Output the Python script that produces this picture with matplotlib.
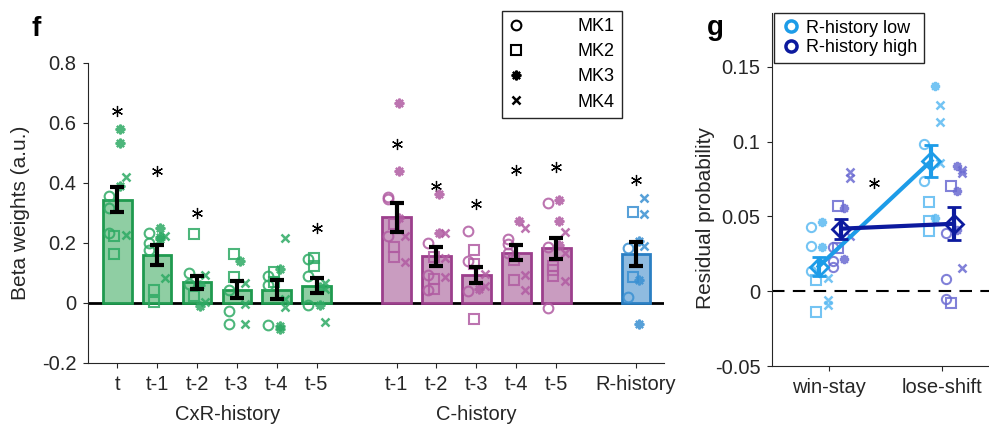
import matplotlib
matplotlib.use("Agg")
import matplotlib.pyplot as plt
from matplotlib.lines import Line2D
from matplotlib.transforms import blended_transform_factory

plt.rcParams['font.family'] = ['Liberation Sans', 'DejaVu Sans']

# ---- panel f data ----
cxr_labels = ['t', 't-1', 't-2', 't-3', 't-4', 't-5']
cxr_means = [0.344, 0.160, 0.069, 0.045, 0.045, 0.058]
cxr_sem = [0.042, 0.033, 0.022, 0.028, 0.033, 0.025]
cxr_star = [0.64, 0.44, 0.30, None, None, 0.25]
cxr_mk1 = [[0.358, 0.316, 0.232], [0.234, 0.200, 0.178], [0.100, 0.064],
           [0.044, -0.028, -0.069], [0.089, 0.061, -0.074], [0.148, 0.089, -0.007]]
cxr_mk2 = [[0.223, 0.162], [0.044, 0.005], [0.230, 0.025],
           [0.165, 0.086], [0.103, 0.069], [0.150, 0.122]]
cxr_mk3 = [[0.581, 0.534, 0.389], [0.251, 0.220, 0.215], [0.060, -0.009],
           [0.139], [0.114, -0.076, -0.087], [0.052, -0.007]]
cxr_mk4 = [[0.420, 0.228], [0.224, 0.084], [0.094, 0.002],
           [0.066, -0.003, -0.069], [0.217, 0.013, -0.013], [0.066, 0.047, -0.062]]

c_labels = ['t-1', 't-2', 't-3', 't-4', 't-5']
c_means = [0.286, 0.156, 0.094, 0.168, 0.182]
c_sem = [0.048, 0.032, 0.026, 0.026, 0.035]
c_star = [0.531, 0.389, 0.329, 0.444, 0.452]
c_mk1 = [[0.355, 0.346, 0.224], [0.200, 0.092, 0.045], [0.241, 0.140, 0.041],
         [0.212, 0.198, 0.167], [0.333, 0.187, -0.015]]
c_mk2 = [[0.262, 0.187, 0.153], [0.153, 0.081, 0.047], [0.176, 0.131, -0.054],
         [0.142, 0.077], [0.125, 0.109, 0.090]]
c_mk3 = [[0.666, 0.441, 0.284], [0.363, 0.232], [0.047],
         [0.273], [0.344, 0.273, 0.193]]
c_mk4 = [[0.224, 0.138], [0.234, 0.150, 0.086], [0.097, 0.058],
         [0.249, 0.092, 0.044], [0.237, 0.168, 0.073]]

r_labels = ['R-history']
r_means = [0.165]
r_sem = [0.040]
r_star = [0.411]
r_mk1 = [[0.185, 0.019]]
r_mk2 = [[0.302, 0.088]]
r_mk3 = [[0.206, 0.077, -0.071]]
r_mk4 = [[0.350, 0.297, 0.190]]

# ---- panel g data ----
g_labels = ['win-stay', 'lose-shift']
low_means = [0.0165, 0.0873]
low_sem = [0.0065, 0.0107]
high_means = [0.0418, 0.0451]
high_sem = [0.0068, 0.0110]
low_mk1 = [[0.0427, 0.0299, 0.0132], [0.0987, 0.0734]]
low_mk2 = [[0.0076, -0.0140], [0.0597, 0.0471, 0.0400]]
low_mk3 = [[0.0460, 0.0295], [0.1375, 0.0489]]
low_mk4 = [[0.0088, -0.0058, -0.0091], [0.1243, 0.1129, 0.0857]]
high_mk1 = [[0.0295, 0.0203, 0.0165], [0.0389, 0.0081, -0.0051]]
high_mk2 = [[0.0572, 0.0289], [0.0705, -0.0076]]
high_mk3 = [[0.0556, 0.0215], [0.0835, 0.0672, 0.0411]]
high_mk4 = [[0.0795, 0.0757, 0.0366], [0.0813, 0.0790, 0.0155]]
g_star = (1.40, 0.0723)

AXC = '#262626'
MK_STYLE = [
    dict(marker='o', mfc='none', ms=7, mew=1.5),
    dict(marker='s', mfc='none', ms=7, mew=1.5),
    dict(marker=(8, 2, 0), ms=7, mew=1.6),
    dict(marker='x', ms=5.5, mew=1.8),
]
SIG = dict(marker=(6, 2, 0), ms=8, mew=0.9, color='k', ls='none')

fig = plt.figure(figsize=(9.89, 4.25), dpi=100)
ax = fig.add_axes([88 / 989, 1 - 363 / 425, 576 / 989, 300 / 425])
ax2 = fig.add_axes([772.4 / 989, 1 - 366 / 425, 1 - 772.4 / 989, 353 / 425])


def style_axis(a):
    for s in ['top', 'right']:
        a.spines[s].set_visible(False)
    for s in ['left', 'bottom']:
        a.spines[s].set_color(AXC)
        a.spines[s].set_linewidth(0.8)
    a.tick_params(direction='out', length=3.5, width=0.8, colors=AXC,
                  labelsize=14.5, pad=5)


def draw_group(xs, means, sem, stars, mks, face, edge, pt):
    ax.bar(xs, means, width=0.72, color=face, edgecolor=edge, linewidth=2, zorder=2)
    offs = [-0.21, -0.07, 0.07, 0.21]
    for k, mk in enumerate(mks):
        for i, vals in enumerate(mk):
            ax.plot([xs[i] + offs[k]] * len(vals), vals, ls='none', color=pt,
                    alpha=0.85, zorder=3, **MK_STYLE[k])
    ax.errorbar(xs, means, yerr=sem, fmt='none', ecolor='k', elinewidth=3,
                capsize=5, capthick=3, zorder=4)
    for x, s in zip(xs, stars):
        if s is not None:
            ax.plot([x], [s], **SIG)


cxr_x = [1 + i for i in range(len(cxr_labels))]
c_x = [8 + i for i in range(len(c_labels))]
r_x = [14]

draw_group(cxr_x, cxr_means, cxr_sem, cxr_star, [cxr_mk1, cxr_mk2, cxr_mk3, cxr_mk4],
           '#8fcea3', '#1f9a4f', '#2eaa64')
draw_group(c_x, c_means, c_sem, c_star, [c_mk1, c_mk2, c_mk3, c_mk4],
           '#c99cc0', '#9c3f8c', '#b15ca2')
draw_group(r_x, r_means, r_sem, r_star, [r_mk1, r_mk2, r_mk3, r_mk4],
           '#8fbbe0', '#2a7fc3', '#3a90d2')

ax.axhline(0, color='k', lw=2, zorder=1)
ax.set_xlim(0.27, 14.7)
ax.set_ylim(-0.2, 0.8)
ax.set_yticks([-0.2, 0, 0.2, 0.4, 0.6, 0.8])
ax.set_yticklabels(['-0.2', '0', '0.2', '0.4', '0.6', '0.8'])
ax.set_xticks(cxr_x + c_x + r_x)
ax.set_xticklabels(cxr_labels + c_labels + r_labels)
style_axis(ax)
ax.set_ylabel('Beta weights (a.u.)', fontsize=15, color=AXC)
ax.yaxis.set_label_coords(-0.101, 0.5)
tr = blended_transform_factory(ax.transData, ax.transAxes)
ax.text(3.78, -0.17, 'CxR-history', transform=tr, ha='center', va='center',
        fontsize=14.5, color=AXC)
ax.text(10, -0.17, 'C-history', transform=tr, ha='center', va='center',
        fontsize=14.5, color=AXC)

mk_handles = [Line2D([], [], ls='none', color='k', **MK_STYLE[k]) for k in range(4)]
fig.legend(mk_handles, ['MK1', 'MK2', 'MK3', 'MK4'], loc='upper left',
           bbox_to_anchor=(501.7 / 989, 1 - 11 / 425), fontsize=13, frameon=True,
           fancybox=False, edgecolor=AXC, framealpha=1, borderpad=0.4,
           handlelength=0.8, handletextpad=3.0, labelspacing=0.45, borderaxespad=0)

# ---- panel g ----
LOW = '#1d9ce8'
HIGH = '#0c1a9e'
LOW_PT = '#5cbaf2'
HIGH_PT = '#6b6bd2'
gx = [1 + i for i in range(len(g_labels))]
for mks, base, col in [([low_mk1, low_mk2, low_mk3, low_mk4], -0.16, LOW_PT),
                       ([high_mk1, high_mk2, high_mk3, high_mk4], 0.035, HIGH_PT)]:
    for k, mk in enumerate(mks):
        for i, vals in enumerate(mk):
            st = dict(MK_STYLE[k])
            st['ms'] = st['ms'] * 0.95
            ax2.plot([gx[i] + base + 0.05 * k] * len(vals), vals, ls='none',
                     color=col, alpha=0.85, zorder=3, **st)

low_x = [x - 0.09 for x in gx]
high_x = [x + 0.11 for x in gx]
ax2.plot(low_x, low_means, color=LOW, lw=3, zorder=4)
ax2.plot(high_x, high_means, color=HIGH, lw=3, zorder=4)
ax2.errorbar(low_x, low_means, yerr=low_sem, fmt='D', color=LOW, mfc='none', ms=9,
             mew=2, elinewidth=3, capsize=5, capthick=3, zorder=5)
ax2.errorbar(high_x, high_means, yerr=high_sem, fmt='D', color=HIGH, mfc='none', ms=9,
             mew=2, elinewidth=3, capsize=5, capthick=3, zorder=5)
ax2.plot([g_star[0]], [g_star[1]], **SIG)
ax2.axhline(0, color='k', lw=1.5, ls=(0, (6, 4)), zorder=1)

ax2.set_xlim(0.5, 2.42)
ax2.set_ylim(-0.05, 0.186)
ax2.set_yticks([-0.05, 0, 0.05, 0.1, 0.15])
ax2.set_yticklabels(['-0.05', '0', '0.05', '0.1', '0.15'])
ax2.set_xticks(gx)
ax2.set_xticklabels(g_labels)
style_axis(ax2)
ax2.set_ylabel('Residual probability', fontsize=15, color=AXC)
ax2.yaxis.set_label_coords(-0.265, 0.42)

g_handles = [Line2D([], [], ls='none', marker='o', mfc='none', ms=8, mew=2.5, color=LOW),
             Line2D([], [], ls='none', marker='o', mfc='none', ms=8, mew=2.5, color=HIGH)]
fig.legend(g_handles, ['R-history low', 'R-history high'], loc='upper left',
           bbox_to_anchor=(773.7 / 989, 1 - 13.3 / 425), fontsize=13, frameon=True,
           fancybox=False, edgecolor=AXC, framealpha=1, borderpad=0.35,
           handlelength=1.2, handletextpad=0.25, labelspacing=0.15, borderaxespad=0)

fig.text(32 / 989, 1 - 36 / 425, 'f', fontsize=20, fontweight='bold', va='baseline')
fig.text(707 / 989, 1 - 35 / 425, 'g', fontsize=20, fontweight='bold', va='baseline')

fig.savefig('out.png', dpi=100)
